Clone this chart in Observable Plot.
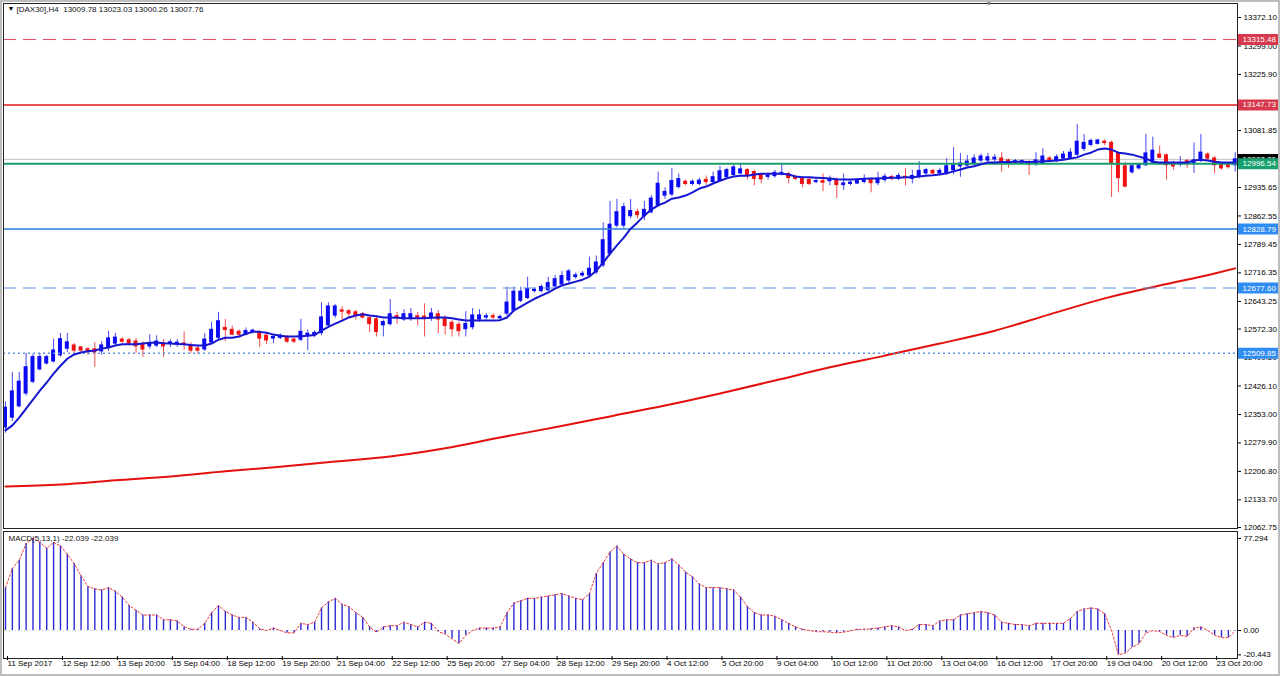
<!DOCTYPE html>
<html><head><meta charset="utf-8">
<script src="https://cdn.jsdelivr.net/npm/d3@7"></script>
<script src="https://cdn.jsdelivr.net/npm/@observablehq/plot@0.6"></script>
<style>
html,body{margin:0;padding:0;background:#fff;}
#wrap{position:relative;width:1280px;height:676px;overflow:hidden;background:#fff;}
#wrap::after{content:"";position:absolute;left:0;top:0;right:0;bottom:0;border:2px solid #bdbdbd;pointer-events:none;}
#main{position:absolute;left:0;top:0;}
#sub{position:absolute;left:0;top:530px;}
svg{display:block;}
</style></head><body>
<div id="wrap"><div id="main"></div><div id="sub"></div></div>
<script>
// ---------- DATA (H4 bars, index 0..179) ----------
const opens = [
12320,12345,12374,12407,12437,12469,12484,12489,12505,12522,
12530,12525,12520,12520,12515,12525,12535,12545,12543,12540,
12533,12528,12530,12535,12535,12535,12535,12530,12522,12520,
12538,12550,12575,12570,12565,12558,12565,12562,12555,12548,
12550,12550,12545,12545,12555,12556,12562,12582,12607,12620,
12618,12615,12610,12600,12597,12582,12585,12605,12597,12598,
12605,12604,12600,12610,12600,12588,12583,12572,12577,12597,
12602,12605,12600,12612,12620,12645,12652,12670,12670,12672,
12682,12687,12697,12706,12710,12710,12718,12736,12766,12838,
12838,12862,12872,12862,12872,12890,12915,12918,12937,12950,
12945,12945,12955,12950,12953,12962,12968,12972,12980,12975,
12968,12963,12965,12970,12970,12962,12957,12955,12950,12952,
12952,12955,12942,12945,12946,12950,12955,12947,12955,12962,
12958,12963,12958,12963,12972,12978,12972,12972,12980,12990,
12992,12997,13005,13005,13008,13010,13005,13000,13000,13000,
12997,12998,13010,13005,13010,13012,13020,13035,13045,13048,
13053,13050,13023,12990,12975,12985,12993,13000,13020,13018,
12998,12995,13003,12997,13005,13020,13010,12993,12993,12993];
const highs = [
12385,12461,12461,12510,12507,12510,12505,12546,12561,12561,
12535,12527,12525,12538,12540,12566,12561,12550,12548,12548,
12540,12558,12555,12545,12545,12545,12565,12537,12528,12560,
12590,12615,12597,12580,12570,12575,12572,12568,12560,12555,
12560,12555,12548,12597,12570,12568,12640,12640,12635,12630,
12622,12620,12615,12606,12602,12595,12648,12615,12622,12625,
12615,12637,12625,12620,12606,12595,12590,12617,12625,12622,
12612,12612,12608,12680,12680,12680,12705,12678,12685,12705,
12710,12720,12725,12716,12720,12757,12760,12845,12900,12905,
12895,12905,12880,12900,12915,12975,12935,12985,12970,12955,
12955,12960,12965,12975,12990,12985,12992,12995,12985,12980,
12972,12972,12980,12997,12975,12967,12962,12960,12957,12970,
12965,12960,12970,12955,12958,12968,12960,12975,12970,12967,
12972,12985,12980,13002,12985,12982,12985,13010,13038,13023,
13018,13020,13022,13023,13020,13025,13008,13008,13007,13005,
13025,13035,13015,13020,13028,13035,13098,13072,13060,13060,
13058,13055,13025,13000,12995,12997,13072,13065,13042,13022,
13003,13015,13008,13050,13072,13025,13015,12997,12997,13025];
const lows = [
12305,12335,12370,12400,12432,12465,12480,12485,12500,12512,
12510,12512,12505,12474,12505,12515,12530,12535,12530,12510,
12500,12520,12525,12500,12525,12525,12518,12510,12508,12515,
12533,12545,12540,12555,12552,12555,12560,12525,12532,12535,
12545,12535,12535,12540,12517,12550,12555,12578,12600,12595,
12600,12595,12598,12563,12552,12552,12580,12585,12592,12592,
12580,12552,12592,12560,12557,12552,12552,12552,12570,12590,
12595,12597,12595,12605,12615,12640,12648,12665,12665,12668,
12678,12682,12690,12700,12705,12705,12712,12730,12760,12832,
12830,12855,12855,12850,12868,12885,12905,12912,12932,12940,
12940,12940,12940,12945,12950,12958,12963,12968,12955,12940,
12945,12955,12960,12965,12945,12953,12935,12940,12945,12925,
12940,12907,12928,12940,12943,12945,12922,12940,12948,12953,
12953,12940,12945,12958,12965,12967,12968,12967,12968,12962,
12988,12992,12998,13000,13000,12975,12985,12995,12995,12967,
12990,12995,13002,13000,13005,13008,13015,13028,13040,13045,
13043,12910,12922,12935,12970,12980,12990,12995,13010,12955,
12980,12988,12985,12972,13000,13005,12970,12980,12983,12975];
const closes = [
12370,12412,12437,12474,12500,12500,12500,12517,12546,12538,
12517,12517,12515,12512,12530,12548,12550,12540,12535,12528,
12520,12535,12540,12528,12538,12537,12532,12517,12517,12545,
12570,12592,12570,12558,12558,12567,12568,12548,12543,12552,
12555,12540,12540,12565,12560,12562,12602,12630,12630,12617,
12612,12607,12602,12585,12565,12590,12610,12602,12610,12610,
12602,12601,12612,12597,12580,12572,12567,12585,12607,12607,
12605,12602,12603,12640,12668,12668,12675,12673,12680,12690,
12700,12708,12720,12710,12714,12727,12743,12800,12840,12872,
12885,12875,12865,12878,12907,12945,12924,12952,12957,12945,
12950,12953,12950,12962,12977,12980,12987,12982,12967,12958,
12957,12966,12973,12973,12960,12958,12945,12945,12952,12948,
12955,12942,12946,12948,12953,12957,12947,12958,12963,12958,
12965,12960,12965,12978,12980,12972,12978,12990,12992,12997,
13002,13010,13015,13013,13012,13002,12998,13003,13003,12995,
13005,13015,13007,13013,13020,13025,13053,13050,13055,13056,
13050,12997,12960,12938,12990,12993,13023,13030,13012,12993,
12990,12998,12997,13005,13025,13010,12993,12985,12988,13007.76];
// fast moving average (blue), read per bar
const maFast = [
12312,12325,12345,12368,12391,12414,12435,12458,12478,12496,
12507,12512,12515,12517,12522,12525,12530,12533,12533,12533,
12535,12537,12538,12536,12535,12534,12533,12531,12530,12530,
12535,12545,12550,12550,12553,12560,12565,12565,12563,12558,
12555,12553,12553,12554,12555,12557,12568,12578,12586,12594,
12602,12607,12610,12607,12605,12602,12602,12601,12600,12600,
12600,12600,12601,12602,12602,12600,12597,12594,12594,12594,
12594,12594,12595,12602,12620,12630,12640,12650,12658,12666,
12676,12684,12689,12694,12699,12707,12722,12743,12766,12787,
12807,12830,12846,12864,12879,12890,12897,12907,12910,12915,
12923,12933,12938,12946,12953,12959,12964,12966,12966,12969,
12971,12971,12971,12971,12969,12964,12962,12962,12961,12960,
12959,12957,12956,12956,12957,12958,12959,12959,12960,12961,
12961,12962,12962,12964,12966,12967,12969,12972,12977,12982,
12987,12990,12995,13000,13000,13001,13001,13002,13002,13001,
13002,13003,13004,13005,13007,13010,13013,13020,13025,13033,
13036,13033,13025,13023,13020,13015,13010,13002,13000,13000,
13000,13000,13000,13005,13007,13005,13002,13000,13000,13000];
// slow moving average (red), read at these bars
const maSlowBars = [0,8,16,24,32,40,48,56,64,72,80,88,96,104,112,120,128,136,144,152,160,168,176,179];
const maSlow = [12168,12173,12184,12194,12207,12219,12232,12245,12266,12294,12320,12348,12376,12407,12440,12474,12504,12535,12568,12610,12651,12684,12715,12728];
// MACD(5,13,1) histogram
const macd = [
36,52,59,73,77.3,74,69,74,71,64,
56,46,37,35,34,36,33,28,21,17,
13,13,13,9,9,8,3,1,1,6,
15,21,16,13,11,11,7,1.5,0,2,
0,-2,-2,6,5,7,19,24,27,22,
20,15,11,3,-1.5,3,4,4,7,5,
3,7,6,-1,-3,-7,-11,-4,0,2,
2,2,3,15,23,25,27,27,28,29,
30,31,29,27,26,31,48,57,66,71,
64,60,57,57,59,56,57,60,55,49,
45,39,36,36,36,35,34,28,20,15,
13,13,12,9,6,3,1,0,-1,-1,
-1.4,-2,-1.4,-0.3,1,1,1.4,2,3,4,
3,0,1,5,5,4,8,9,9,13,
14,15,16,15,13,7,6,5,5,4,
6,6,6,6,6,10,16,18,19,18,
14,0,-20.4,-19,-14,-11,-2,0,-1,-4,
-6,-4,-5,2,3,0,-4,-6,-6,-0.5];
// horizontal levels
const levelValues = [13315.48, 13147.73, 12996.54, 12828.79, 12677.60, 12509.85];
// axis ticks (those fully hidden under level labels in the original are left out)
const priceTicks = [13372.10,13299.00,13225.90,13081.85,12935.65,12862.55,12789.45,12716.35,12643.25,12572.30,12499.20,12426.10,12353.00,12279.90,12206.80,12133.70,12062.75];
const macdTicks = [77.294, 0, -20.443];
const timeTickBars = [0,8,16,24,32,40,48,56,64,72,80,88,96,104,112,120,128,136,144,152,160,168,176];
const timeTickLabels = ["11 Sep 2017","12 Sep 12:00","13 Sep 20:00","15 Sep 04:00","18 Sep 12:00","19 Sep 20:00","21 Sep 04:00","22 Sep 12:00","25 Sep 20:00","27 Sep 04:00","28 Sep 12:00","29 Sep 20:00","4 Oct 12:00","5 Oct 20:00","9 Oct 04:00","10 Oct 12:00","11 Oct 20:00","13 Oct 04:00","16 Oct 12:00","17 Oct 20:00","19 Oct 04:00","20 Oct 12:00","23 Oct 20:00"];
const headerText = "[DAX30],H4\u00a0\u00a013009.78 13023.03 13000.26 13007.76";
const macdText = "MACD(5,13,1) -22.039 -22.039";

// ---------- STYLES ----------
const FONT = "'Liberation Sans', Arial, sans-serif";
const BULL = "#0b0bf2", BEAR = "#f01212";
const levelStyles = [
  {line: "#dc4a64", box: "#d7384c", dash: "13,7", w: 1},
  {line: "#e01818", box: "#d7384c", dash: null, w: 1.5},
  {line: "#1b9c6c", box: "#16a06c", dash: null, w: 2},
  {line: "#2b7fd6", box: "#2f8cf2", dash: null, w: 1.5},
  {line: "#5b92dc", box: "#2f8cf2", dash: "13,7", w: 1},
  {line: "#5b92dc", box: "#2f8cf2", dash: "2,3", w: 1.5}
];
const X_DOMAIN = [-0.291, 179.33];
const BOX_X1 = 179.48, BOX_X2 = 185.5;

const N = closes.length;
const idx = d3.range(N);
const bars = idx.map(i => ({i, o: opens[i], h: highs[i], l: lows[i], c: closes[i], up: closes[i] >= opens[i]}));
const lastPrice = closes[N - 1];
const labelByBar = new Map(timeTickBars.map((b, k) => [b, timeTickLabels[k]]));

const levelLineMarks = levelValues.map((v, k) => Plot.ruleY([v], {
  stroke: levelStyles[k].line, strokeWidth: levelStyles[k].w,
  strokeDasharray: levelStyles[k].dash || undefined
}));
function boxMarks(v, color) {
  return [
    Plot.ruleY([v], {x1: BOX_X1, x2: BOX_X2, stroke: color, strokeWidth: 11}),
    Plot.text([v], {x: BOX_X1, y: d => d, text: d => d.toFixed(2), textAnchor: "start", dx: 4, fill: "#fff", fontSize: 8})
  ];
}
const order = [0, 1, 3, 4, 5];
const boxes = [
  ...order.flatMap(k => boxMarks(levelValues[k], levelStyles[k].box)),
  ...boxMarks(lastPrice, "#000"),
  ...boxMarks(levelValues[2], levelStyles[2].box)
];

const main = Plot.plot({
  width: 1280, height: 530,
  marginLeft: 3, marginRight: 43, marginTop: 3, marginBottom: 2,
  style: {fontFamily: FONT, fontSize: "8px", background: "transparent", color: "#000", overflow: "visible"},
  x: {domain: X_DOMAIN, axis: null},
  y: {domain: [12060.2, 13408.04], axis: null},
  marks: [
    Plot.ruleY([lastPrice], {stroke: "#c4c4c4", strokeWidth: 1}),
    Plot.line(maSlowBars, {x: d => d, y: (d, k) => maSlow[k], stroke: "#e4100c", strokeWidth: 2, curve: "monotone-x"}),
    Plot.ruleX(bars, {x: "i", y1: "l", y2: "h", stroke: d => d.up ? BULL : BEAR, strokeWidth: 1, strokeOpacity: 0.75}),
    Plot.rect(bars, {x1: d => d.i - 0.29, x2: d => d.i + 0.29, y1: d => Math.min(d.o, d.c), y2: d => Math.max(d.o, d.c),
      fill: d => d.up ? BULL : BEAR, insetTop: -0.6, insetBottom: -0.6}),
    ...levelLineMarks,
    Plot.line(idx, {x: d => d, y: d => maFast[d], stroke: "#1616d0", strokeWidth: 2}),
    Plot.frame({stroke: "#222", strokeWidth: 1}),
    Plot.axisY(priceTicks, {anchor: "right", tickSize: 3, tickPadding: 3, tickFormat: d => d.toFixed(2), label: null, fontSize: 8, stroke: "#000"}),
    ...boxes,
    Plot.text(["\u25BC"], {frameAnchor: "top-left", dx: 4, dy: 3, fontSize: 7, fill: "#000"}),
    Plot.text([headerText], {frameAnchor: "top-left", dx: 13, dy: 3, fontSize: 8, fill: "#111"}),
    Plot.text(["\u25BC"], {x: 143.1, frameAnchor: "top", dy: -2, fontSize: 7, fill: "#888"})
  ]
});
document.getElementById("main").appendChild(main);

const sub = Plot.plot({
  width: 1280, height: 146,
  marginLeft: 3, marginRight: 43, marginTop: 1, marginBottom: 18,
  style: {fontFamily: FONT, fontSize: "8px", background: "transparent", color: "#000", overflow: "visible"},
  x: {domain: X_DOMAIN, axis: null},
  y: {domain: [-23.52, 83.16], axis: null},
  marks: [
    Plot.ruleY([0], {stroke: "#c8c8d8", strokeDasharray: "1,2"}),
    Plot.ruleX(idx, {x: d => d, y1: 0, y2: d => macd[d], stroke: "#2a2ad4", strokeWidth: 1.4}),
    Plot.line(idx, {x: d => d, y: d => macd[d], stroke: "#e83838", strokeWidth: 1, strokeDasharray: "2,2"}),
    Plot.frame({stroke: "#222", strokeWidth: 1}),
    Plot.axisY(macdTicks, {anchor: "right", tickSize: 3, tickPadding: 3, tickFormat: d => d === 0 ? "0.00" : String(d), label: null, fontSize: 8}),
    Plot.axisX(timeTickBars, {anchor: "bottom", tickSize: 4, tickPadding: 0, dy: -2, dx: 2, textAnchor: "start", tickFormat: d => labelByBar.get(d), label: null, fontSize: 8}),
    Plot.text([macdText], {frameAnchor: "top-left", dx: 5, dy: 4, fontSize: 8, fill: "#111"})
  ]
});
document.getElementById("sub").appendChild(sub);
</script>
</body></html>
